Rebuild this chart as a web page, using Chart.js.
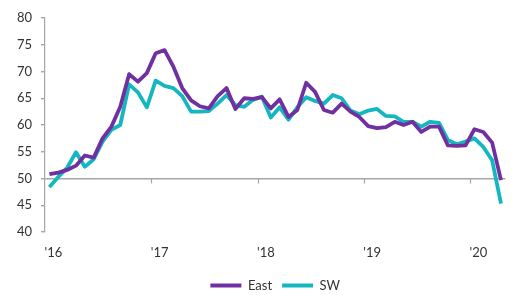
<!DOCTYPE html>
<html>
<head>
<meta charset="utf-8">
<script src="https://cdn.jsdelivr.net/npm/chart.js@4/dist/chart.umd.min.js"></script>
<style>
  html, body { margin: 0; padding: 0; background: #fff; }
  #wrap { width: 514px; height: 295px; }
</style>
</head>
<body>
<div id="wrap"><canvas id="chart"></canvas></div>
<script>
// monthly, Jan 2016 - Apr 2020
const months = [
  '2016-01', '2016-02', '2016-03', '2016-04', '2016-05', '2016-06', '2016-07', '2016-08', '2016-09', '2016-10', '2016-11', '2016-12',
  '2017-01', '2017-02', '2017-03', '2017-04', '2017-05', '2017-06', '2017-07', '2017-08', '2017-09', '2017-10', '2017-11', '2017-12',
  '2018-01', '2018-02', '2018-03', '2018-04', '2018-05', '2018-06', '2018-07', '2018-08', '2018-09', '2018-10', '2018-11', '2018-12',
  '2019-01', '2019-02', '2019-03', '2019-04', '2019-05', '2019-06', '2019-07', '2019-08', '2019-09', '2019-10', '2019-11', '2019-12',
  '2020-01', '2020-02', '2020-03', '2020-04'
]
const yearLabels = { '2016': "'16", '2017': "'17", '2018': "'18", '2019': "'19", '2020': "'20" }

const east = [
  50.8, 51.1, 51.6, 52.4, 54.3, 53.9, 57.5, 59.7, 63.4, 69.5, 68.1, 69.7,
  73.4, 74.0, 70.9, 66.9, 64.6, 63.5, 63.1, 65.4, 66.9, 63.0, 65.0, 64.9,
  65.2, 63.1, 64.8, 61.5, 62.8, 67.9, 66.2, 62.8, 62.3, 64.0, 62.5, 61.5,
  59.8, 59.4, 59.6, 60.6, 60.0, 60.6, 58.7, 59.7, 59.7, 56.2, 56.1, 56.2,
  59.2, 58.7, 56.7, 49.7
]
const sw = [
  48.4, 50.3, 52.0, 54.9, 52.2, 53.6, 56.9, 59.1, 60.0, 67.6, 66.1, 63.3,
  68.3, 67.3, 66.9, 65.4, 62.5, 62.5, 62.6, 64.0, 65.6, 63.7, 63.4, 64.7,
  65.3, 61.4, 63.3, 61.0, 63.3, 65.2, 64.5, 64.0, 65.6, 65.0, 62.7, 62.0,
  62.7, 63.0, 61.7, 61.6, 60.6, 60.6, 59.7, 60.6, 60.4, 57.2, 56.4, 56.9,
  57.5, 55.9, 53.4, 45.3
]

const PURPLE = '#7030a0'
const TEAL = '#14b7bf'
const AXIS = '#a6a6a6'
const TEXT = '#333333'
const FONT = { family: 'Lato', size: 13 }

// little year tick marks hanging off the 50 line
const yearTicks = {
  id: 'yearTicks',
  beforeDatasetsDraw (chart) {
    const { ctx, scales: { x, y } } = chart
    const band = x.getPixelForValue(1) - x.getPixelForValue(0)
    const y50 = y.getPixelForValue(50)
    ctx.save()
    ctx.strokeStyle = AXIS
    ctx.lineWidth = 1.2
    months.forEach((m, i) => {
      if (i === 0 || !m.endsWith('-01')) return
      const px = Math.round(x.getPixelForValue(i) - band / 2) + 0.5
      ctx.beginPath()
      ctx.moveTo(px, y50)
      ctx.lineTo(px, y50 + 5)
      ctx.stroke()
    })
    ctx.restore()
  }
}

new Chart(document.getElementById('chart'), {
  type: 'line',
  data: {
    labels: months,
    datasets: [
      { label: 'East', data: east, borderColor: PURPLE, backgroundColor: PURPLE, borderWidth: 3.8 },
      { label: 'SW', data: sw, borderColor: TEAL, backgroundColor: TEAL, borderWidth: 3.8 }
    ]
  },
  options: {
    responsive: true,
    maintainAspectRatio: false,
    animation: false,
    layout: { padding: { top: 18, right: 0, bottom: -7, left: 0 } },
    elements: {
      point: { radius: 0, hoverRadius: 0 },
      line: { tension: 0, borderJoinStyle: 'round' }
    },
    clip: false,
    plugins: {
      tooltip: { enabled: false },
      legend: {
        position: 'bottom',
        fullSize: false,
        labels: {
          color: TEXT,
          font: FONT,
          usePointStyle: true,
          pointStyle: 'line',
          pointStyleWidth: 31,
          padding: 10
        }
      }
    },
    scales: {
      x: {
        offset: true,
        border: { display: false },
        grid: { display: false, drawTicks: false },
        ticks: {
          autoSkip: false,
          maxRotation: 0,
          padding: 13,
          labelOffset: 4,
          color: TEXT,
          font: FONT,
          callback: (val, i) => months[i].endsWith('-01') ? yearLabels[months[i].slice(0, 4)] : ''
        },
        afterFit: (scale) => { scale.height = 37 }
      },
      y: {
        min: 40,
        max: 80,
        border: { display: true, color: AXIS, width: 1.2 },
        grid: {
          color: (c) => (c.tick && c.tick.value === 50 ? AXIS : 'rgba(0,0,0,0)'),
          tickColor: AXIS,
          lineWidth: 1.4,
          tickLength: 4
        },
        ticks: { stepSize: 5, padding: 9, color: TEXT, font: FONT },
        afterFit: (scale) => { scale.width = 45 }
      }
    }
  },
  plugins: [yearTicks]
})
</script>
</body>
</html>
